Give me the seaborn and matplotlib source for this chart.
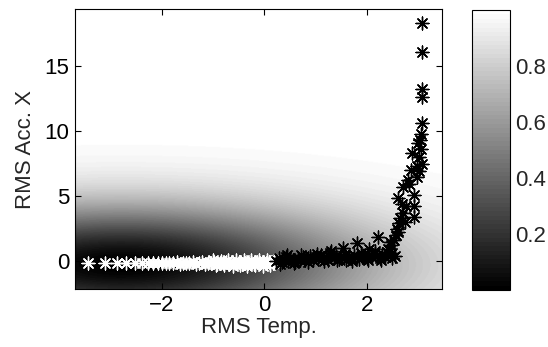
import numpy as np
import matplotlib
matplotlib.use("Agg")
import matplotlib.pyplot as plt
import seaborn as sns

# ---- data ----
white_x = [-3.43, -3.10, -2.87, -2.69, -2.52, -2.38, -2.27, -2.17, -2.08, -2.00,
           -1.92, -1.85, -1.78, -1.71, -1.64, -1.58, -1.52, -1.46, -1.40, -1.34,
           -1.28, -1.22, -1.16, -1.10, -1.04, -0.98, -0.92, -0.86, -0.80, -0.74,
           -0.68, -0.62, -0.56, -0.50, -0.44, -0.38, -0.32, -0.26, -0.20, -0.14,
           -0.08, -0.02, 0.04, 0.10, 0.16, 0.20,
           -1.00, -0.85, -0.70, -0.55, -0.40, -0.25, -0.10, 0.05, 0.18,
           -0.95, -0.78, -0.62, -0.47, -0.33, -0.18, -0.03, 0.12]
white_y = [-0.15, -0.15, -0.15, -0.15, -0.15, -0.15, -0.15, -0.12, -0.18, -0.14,
           -0.12, -0.18, -0.15, -0.10, -0.20, -0.15, -0.12, -0.18, -0.10, -0.20,
           -0.14, -0.10, -0.20, -0.12, -0.16, -0.10, -0.20, -0.12, -0.18, -0.10,
           -0.20, -0.12, -0.16, -0.08, -0.20, -0.12, -0.16, -0.08, -0.20, -0.10,
           -0.15, -0.05, -0.18, -0.08, -0.12, -0.05,
           0.05, 0.02, 0.08, 0.05, 0.10, 0.06, 0.12, 0.10, 0.12,
           -0.32, -0.30, -0.35, -0.30, -0.36, -0.32, -0.35, -0.30]

black_x = [0.22, 0.28, 0.34, 0.38, 0.42, 0.46, 0.50, 0.55, 0.60, 0.65,
           0.70, 0.75, 0.80, 0.85, 0.90, 0.95, 1.00, 1.05, 1.10, 1.15,
           1.20, 1.25, 1.30, 1.35, 1.40, 1.45, 1.50, 1.55, 1.60, 1.65,
           1.70, 1.75, 1.80, 1.85, 1.90, 1.95, 2.00, 2.05, 2.10, 2.15,
           2.20, 2.25, 2.30, 2.35, 2.40, 2.45, 2.50, 2.54,
           0.30, 0.44, 0.58, 0.72, 0.86, 1.02, 1.16, 1.28, 1.42, 1.58,
           1.72, 1.88, 2.02, 2.16, 2.28, 2.42, 2.50,
           1.54, 1.81, 2.22, 2.05, 1.30,
           2.48, 2.52, 2.56, 2.58, 2.62, 2.65, 2.71, 2.77, 2.61, 2.91,
           2.91, 2.91, 2.71, 2.82, 2.97, 2.87, 3.08, 2.89, 3.02, 3.06,
           2.99, 3.04, 3.06, 3.08, 3.08, 3.08, 3.08, 3.08, 2.97, 3.02,
           2.80, 2.68, 2.74, 2.45, 2.60]
black_y = [0.00, 0.20, -0.10, 0.10, 0.30, 0.00, 0.20, 0.10, -0.05, 0.25,
           0.10, 0.30, 0.05, 0.20, 0.40, 0.10, 0.30, 0.15, 0.45, 0.20,
           0.35, 0.10, 0.30, 0.20, 0.40, 0.15, 0.35, 0.25, 0.10, 0.30,
           0.20, 0.50, 0.35, 0.15, 0.30, 0.40, 0.20, 0.50, 0.30, 0.60,
           0.40, 0.25, 0.55, 0.35, 0.70, 0.45, 0.60, 0.40,
           -0.20, 0.45, -0.15, 0.50, -0.10, 0.55, 0.00, 0.60, 0.05, 0.55,
           0.00, 0.60, 0.10, 0.80, 0.10, 0.90, 0.20,
           1.00, 1.40, 1.85, 0.90, 0.80,
           1.20, 1.60, 2.00, 2.50, 2.90, 3.30, 3.70, 4.20, 4.85, 4.20,
           3.40, 5.10, 5.70, 5.90, 6.50, 7.00, 7.50, 8.30, 8.00, 8.60,
           9.10, 9.30, 9.80, 10.60, 12.60, 13.20, 16.10, 18.30, 7.30, 6.90,
           6.20, 4.40, 3.00, 1.50, 2.20]

# background model surface (novelty score) parameters read from the shading
center_x, center_y = -2.8, -0.3
scale_x, scale_y = 3.3, 3.2

x_limits = (-3.69, 3.47)
y_limits = (-2.15, 19.35)
x_ticks = [-2, 0, 2]
y_ticks = [0, 5, 10, 15]
cbar_ticks = [0.2, 0.4, 0.6, 0.8]

sns.set_theme(style="white")
plt.rcParams['font.family'] = ['Liberation Sans', 'DejaVu Sans']

fig = plt.figure(figsize=(5.48, 3.47), dpi=100)
ax = fig.add_axes([0.137, 0.167, 0.670, 0.806])
cax = fig.add_axes([0.861, 0.164, 0.0693, 0.807])

gx = np.linspace(x_limits[0], x_limits[1], 400)
gy = np.linspace(y_limits[0], y_limits[1], 400)
GX, GY = np.meshgrid(gx, gy)
Z = 1 - np.exp(-0.5 * (((GX - center_x) / scale_x) ** 2 + ((GY - center_y) / scale_y) ** 2))
cmap = plt.get_cmap('gray', 64)
im = ax.imshow(Z, extent=[x_limits[0], x_limits[1], y_limits[0], y_limits[1]],
               origin='lower', aspect='auto', cmap=cmap, vmin=0, vmax=1, zorder=0)

marker = (8, 2, 0)
sns.scatterplot(x=white_x, y=white_y, ax=ax, marker=marker, s=85,
                color='white', edgecolor='white', linewidth=1.0, zorder=2)
sns.scatterplot(x=black_x, y=black_y, ax=ax, marker=marker, s=85,
                color='black', edgecolor='black', linewidth=1.0, zorder=3)

ax.set_xlim(*x_limits)
ax.set_ylim(*y_limits)
ax.set_xticks(x_ticks)
ax.set_yticks(y_ticks)
ax.set_xlabel('RMS Temp.', fontsize=16, labelpad=1)
ax.set_ylabel('RMS Acc. X', fontsize=16, labelpad=6)
ax.tick_params(direction='in', length=4, width=0.8, labelsize=16, top=True, right=True,
               bottom=True, left=True, colors='black', pad=4)
for s in ax.spines.values():
    s.set_color('black')
    s.set_linewidth(0.8)

cb = fig.colorbar(im, cax=cax)
cb.set_ticks(cbar_ticks)
cb.ax.tick_params(direction='in', length=4, width=0.8, labelsize=16, left=True, right=True, pad=4)
cb.outline.set_edgecolor('black')
cb.outline.set_linewidth(0.8)

fig.savefig('out.png', dpi=100)
